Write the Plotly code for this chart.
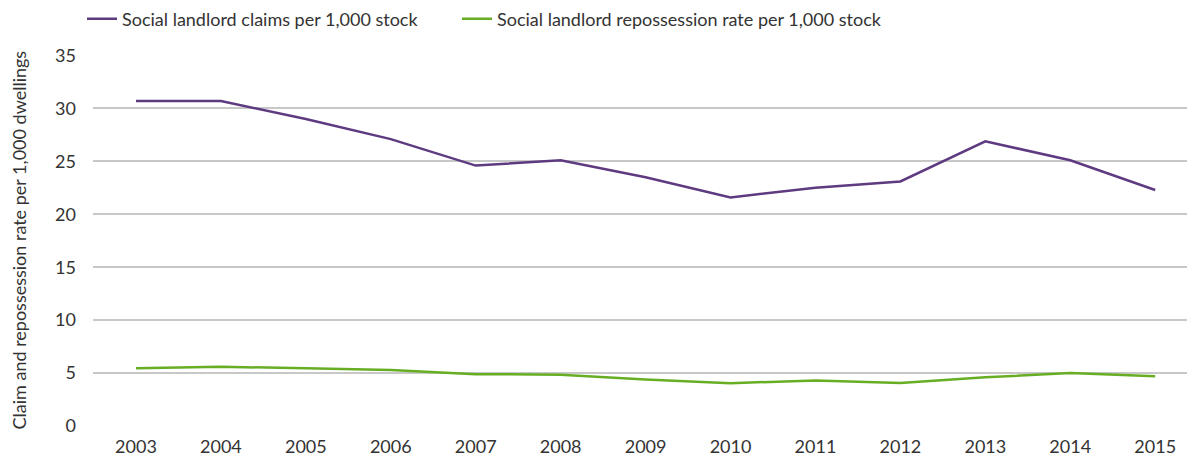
import plotly.graph_objects as go

years = [2003, 2004, 2005, 2006, 2007, 2008, 2009, 2010, 2011, 2012, 2013, 2014, 2015]
claims = [30.7, 30.7, 29.0, 27.1, 24.6, 25.1, 23.5, 21.6, 22.5, 23.1, 26.9, 25.1, 22.3]
reposs = [5.45, 5.6, 5.45, 5.3, 4.9, 4.85, 4.4, 4.05, 4.3, 4.07, 4.6, 5.0, 4.7]
y_ticks = [0, 5, 10, 15, 20, 25, 30, 35]
y_title = "Claim and repossession rate per 1,000 dwellings"

PURPLE = "#5e3a80"
GREEN = "#67ae24"
FONT = "Lato, DejaVu Sans, sans-serif"
TXT = "#333333"

# The page body keeps the browser's default 8px margin, so the figure is
# sized and laid out to fill the rest of the 1195x464 window.
W, H = 1187, 456

fig = go.Figure()
fig.add_trace(go.Scatter(x=years, y=claims, mode="lines", name="Social landlord claims per 1,000 stock",
                         line=dict(color=PURPLE, width=2.5), legend="legend", showlegend=True))
fig.add_trace(go.Scatter(x=years, y=reposs, mode="lines", name="Social landlord repossession rate per 1,000 stock",
                         line=dict(color=GREEN, width=2.5), legend="legend2", showlegend=True))

leg_common = dict(orientation="h", xref="container", yref="paper", y=1.147,
                  xanchor="left", yanchor="top", bgcolor="rgba(0,0,0,0)",
                  font=dict(size=18, family=FONT, color=TXT))

fig.update_layout(
    width=W, height=H,
    showlegend=True,
    margin=dict(l=85, r=5, t=47, b=38, autoexpand=False),
    plot_bgcolor="white", paper_bgcolor="white",
    font=dict(family=FONT, size=18, color=TXT),
    legend=dict(x=74/W, visible=True, **leg_common),
    legend2=dict(x=449/W, visible=True, **leg_common),
    xaxis=dict(range=[2002.494, 2015.41], tickmode="array", tickvals=years,
               ticktext=[str(y) for y in years], showgrid=False, zeroline=False,
               showline=False, ticks="", ticklabelstandoff=8,
               tickfont=dict(family=FONT, size=18, color=TXT)),
    yaxis=dict(range=[0, 35.05], tickmode="array", tickvals=y_ticks, showgrid=True,
               gridcolor="#c8c8c8", gridwidth=1.5, zeroline=False, ticks="",
               ticklabelstandoff=16,
               tickfont=dict(family=FONT, size=18, color=TXT)),
    annotations=[dict(text=y_title, textangle=-90, xref="paper", yref="paper",
                      x=(10 - 85) / 1097, y=0.5, xanchor="center", yanchor="middle",
                      showarrow=False, font=dict(family=FONT, size=18, color=TXT))],
)

fig.write_html("out.html", config={"displayModeBar": False})
